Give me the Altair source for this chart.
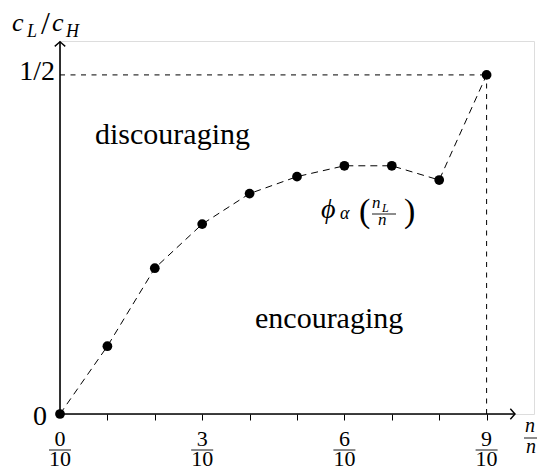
import altair as alt
import pandas as pd

# ---- data ----
x_share = [0.0, 0.1, 0.2, 0.3, 0.4, 0.5, 0.6, 0.7, 0.8, 0.9]
phi_vals = [0.0, 0.100, 0.215, 0.280, 0.325, 0.350, 0.366, 0.366, 0.345, 0.5]
tick_values = [0.1, 0.2, 0.3, 0.4, 0.5, 0.6, 0.7, 0.8, 0.9]
frac_pos = [0.0, 0.3, 0.6, 0.9]
frac_num = ["0", "3", "6", "9"]
frac_den = ["10", "10", "10", "10"]
y_zero_label = ["0"]
y_half_label = ["1/2"]
corner_x = [0.9]
corner_y = [0.5]

# ---- layout ----
X_MAX = 1.0
Y_MAX = 0.55
W = 474
H = 373
OX, OY = 60, 41          # page position of plot's top-left corner
SERIF = "Liberation Serif"

xs = alt.Scale(domain=[0, X_MAX], nice=False, zero=False)
ys = alt.Scale(domain=[0, Y_MAX], nice=False, zero=False)
x_axis = alt.Axis(values=tick_values, labels=False, domain=False, grid=False, ticks=True,
                  tickSize=6, tickColor="black", tickWidth=1, title=None)


def X(f):
    return alt.X(f, scale=xs, axis=x_axis)


def Y(f):
    return alt.Y(f, scale=ys, axis=None)


def px(x):
    return alt.value(x - OX)


def py(y):
    return alt.value(y - OY)


def txt(s, x, y, size, italic=False, align="left", baseline="alphabetic"):
    return alt.Chart(pd.DataFrame({"t": [s]})).mark_text(
        font=SERIF, fontSize=size, fontStyle="italic" if italic else "normal",
        align=align, baseline=baseline, color="black"
    ).encode(text="t:N", x=px(x), y=py(y))


def bar(x1, x2, y):
    return alt.Chart(pd.DataFrame({"a": [0]})).mark_rule(
        color="black", strokeWidth=0.9
    ).encode(x=px(x1), x2=px(x2), y=py(y))


pts = pd.DataFrame({"x": x_share, "y": phi_vals})

curve = alt.Chart(pts).mark_line(
    color="black", strokeWidth=1, strokeDash=[7, 5]
).encode(x=X("x:Q"), y=Y("y:Q"))

dots = alt.Chart(pts).mark_circle(color="black", size=95, opacity=1).encode(
    x=X("x:Q"), y=Y("y:Q"))

corner = pd.DataFrame({"cx": corner_x, "cy": corner_y, "z": [0.0]})
hguide = alt.Chart(corner).mark_rule(color="black", strokeWidth=1, strokeDash=[5, 5.5]).encode(
    x=X("z:Q"), x2="cx:Q", y=Y("cy:Q"))
vguide = alt.Chart(corner).mark_rule(color="black", strokeWidth=1, strokeDash=[5, 5.5]).encode(
    x=X("cx:Q"), y=Y("z:Q"), y2="cy:Q")

axes_df = pd.DataFrame({"z": [0.0], "xe": [0.96], "ye": [0.549]})
x_axis_line = alt.Chart(axes_df).mark_rule(color="black", strokeWidth=1.6).encode(
    x=X("z:Q"), x2="xe:Q", y=Y("z:Q"))
y_axis_line = alt.Chart(axes_df).mark_rule(color="black", strokeWidth=1.6).encode(
    x=X("z:Q"), y=Y("z:Q"), y2="ye:Q")

arrow_path = "M -0.9 -1 Q -0.25 -0.25 0 0 Q -0.25 0.25 -0.9 1"
x_arrow = alt.Chart(axes_df).mark_point(
    shape=arrow_path, filled=False, stroke="black", strokeWidth=1.4, size=110, opacity=1
).encode(x=X("xe:Q"), y=Y("z:Q"))
y_arrow = alt.Chart(axes_df).mark_point(
    shape=arrow_path, filled=False, stroke="black", strokeWidth=1.4, size=110, opacity=1, angle=270
).encode(x=X("z:Q"), y=Y("ye:Q"))

# x tick labels as fractions
fr = pd.DataFrame({"p": frac_pos, "num": frac_num, "den": frac_den})
num_txt = alt.Chart(fr).mark_text(font=SERIF, fontSize=22, align="center",
                                  baseline="alphabetic", color="black").encode(
    x=X("p:Q"), y=py(446), text="num:N")
den_txt = alt.Chart(fr).mark_text(font=SERIF, fontSize=22, align="center",
                                  baseline="alphabetic", color="black").encode(
    x=X("p:Q"), y=py(466), text="den:N")
frac_bar = alt.Chart(fr).mark_rule(color="black", strokeWidth=0.9, xOffset=-11, x2Offset=11).encode(
    x=X("p:Q"), x2="p:Q", y=py(450))

# y tick labels
y0 = alt.Chart(pd.DataFrame({"v": [0.0], "t": y_zero_label})).mark_text(
    font=SERIF, fontSize=28, align="right", baseline="middle", dx=-13, dy=2.5, color="black"
).encode(x=X("v:Q"), y=Y("v:Q"), text="t:N")
yh = alt.Chart(pd.DataFrame({"x0": [0.0], "v": [0.5], "t": y_half_label})).mark_text(
    font=SERIF, fontSize=28, align="right", baseline="middle", dx=-5, dy=-2.5, color="black"
).encode(x=X("x0:Q"), y=Y("v:Q"), text="t:N")

# axis titles / annotations
labels = [
    # y title c_L / c_H
    txt("c", 12, 31, 26, italic=True),
    txt("L", 27, 37, 18, italic=True),
    txt("/", 41, 34, 32),
    txt("c", 52, 31, 26, italic=True),
    txt("H", 66, 37, 18, italic=True),
    # x title n_L / n
    txt("n", 525, 432, 20, italic=True),
    txt("L", 539, 436, 14, italic=True),
    bar(524, 546, 438),
    txt("n", 526, 453, 20, italic=True),
    # region labels
    txt("discouraging", 95, 144, 30),
    txt("encouraging", 255, 328, 30),
    # phi_alpha (n_L / n)
    txt("\u03d5", 321, 218, 28, italic=True),
    txt("\u03b1", 340, 219, 18, italic=True),
    txt("(", 359, 222, 34),
    txt(")", 404, 222, 34),
    txt("n", 372, 208, 17, italic=True),
    txt("L", 382, 212, 12, italic=True),
    bar(372, 396, 214),
    txt("n", 378, 225, 17, italic=True),
]

chart = alt.layer(
    hguide, vguide, curve, x_axis_line, y_axis_line, x_arrow, y_arrow, dots,
    num_txt, den_txt, frac_bar, y0, yh, *labels
).properties(
    width=W, height=H,
    autosize=alt.AutoSizeParams(type="none"),
    padding={"left": OX - 8, "top": OY - 8, "right": 545 - 8 - OX - W, "bottom": 469 - OY - H},
).configure_view(stroke=None).configure(background="white")

chart.save("out.html", embed_options={"renderer": "svg", "actions": False})
